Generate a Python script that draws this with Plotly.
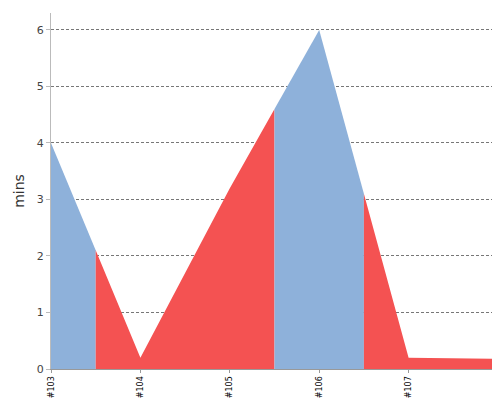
import plotly.graph_objects as go
import numpy as np

builds = ["#103", "#104", "#105", "#106", "#107", "#108"]
durations = [4.0, 0.2, 3.2, 6.0, 0.2, 0.18]
status = ["ok", "fail", "fail", "ok", "fail", "fail"]
colors = {"ok": "#8eb1da", "fail": "#f45252"}

xs = np.arange(len(builds), dtype=float)
# group consecutive builds with the same status
groups = []
for i, s in enumerate(status):
    if groups and groups[-1][0] == s:
        groups[-1][1].append(i)
    else:
        groups.append((s, [i]))

fig = go.Figure()
for s, idx in groups:
    a = max(xs[idx[0]] - 0.5, xs[0]); b = min(xs[idx[-1]] + 0.5, xs[-1])
    px = [a] + [xs[i] for i in idx if a < xs[i] < b] + [b]
    py = list(np.interp(px, xs, durations))
    fig.add_trace(go.Scatter(x=px + [b, a], y=py + [0, 0], fill="toself", mode="lines",
                             line=dict(width=0), fillcolor=colors[s],
                             hoverinfo="skip", showlegend=False))

fig.update_layout(width=500, height=400, margin=dict(l=43, r=10, t=5, b=39, autoexpand=False),
                  plot_bgcolor="white", paper_bgcolor="white",
                  font=dict(family="DejaVu Sans", color="#333"))
fig.update_xaxes(range=[0, 5], tickvals=list(xs), ticktext=builds, tickangle=-90,
                 tickfont=dict(size=8, color="black"), showgrid=False, zeroline=False,
                 showline=True, linecolor="#999", ticks="outside", ticklen=3, tickcolor="#999",
                 automargin=False)
fig.update_yaxes(range=[0, 6.3], tickvals=[0, 1, 2, 3, 4, 5, 6], showgrid=True,
                 gridcolor="#777", griddash="3px,2px", gridwidth=0.7, zeroline=False,
                 showline=True, linecolor="#bbb", tickfont=dict(size=11, color="#444"),
                 title=dict(text="mins", font=dict(size=14, color="#333"), standoff=8),
                 ticks="outside", ticklen=4, tickcolor="#bbb", automargin=False)
fig.write_html("out.html")
